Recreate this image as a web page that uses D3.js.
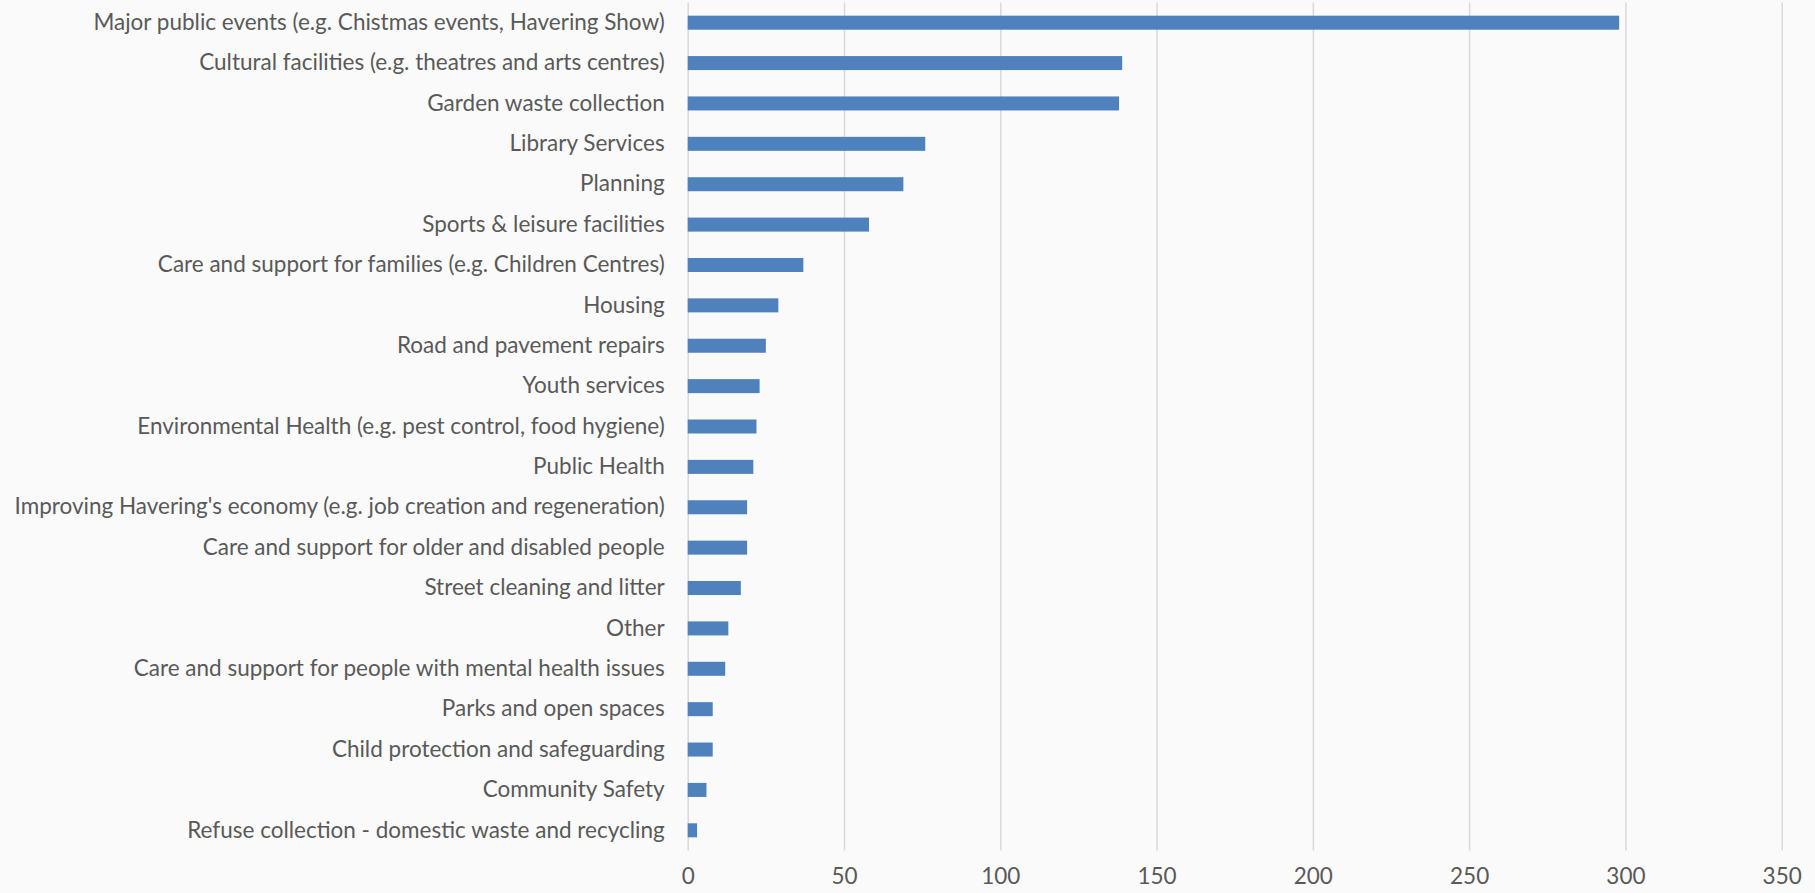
<!DOCTYPE html>
<html lang="en">
<head>
<meta charset="utf-8" />
<title>Services</title>
<script src="https://d3js.org/d3.v7.min.js"></script>
<style>
    body, html {
        margin: 0;
        background: #fafafa;
    }
    .tick text {
        font-family: Lato, "Open Sans", sans-serif;
        fill: #595959;
    }
</style>
</head>
<body>
<div id="canvas"></div>
<script>
    // categories, top to bottom
    let categories = [
        "Major public events (e.g. Chistmas events, Havering Show)",
        "Cultural facilities (e.g. theatres and arts centres)",
        "Garden waste collection",
        "Library Services",
        "Planning",
        "Sports & leisure facilities",
        "Care and support for families (e.g. Children Centres)",
        "Housing",
        "Road and pavement repairs",
        "Youth services",
        "Environmental Health (e.g. pest control, food hygiene)",
        "Public Health",
        "Improving Havering's economy (e.g. job creation and regeneration)",
        "Care and support for older and disabled people",
        "Street cleaning and litter",
        "Other",
        "Care and support for people with mental health issues",
        "Parks and open spaces",
        "Child protection and safeguarding",
        "Community Safety",
        "Refuse collection - domestic waste and recycling"
    ]
    let values = [298, 139, 138, 76, 69, 58, 37, 29, 25, 23, 22, 21, 19, 19, 17, 13, 12, 8, 8, 6, 3]
    let xTicks = [0, 50, 100, 150, 200, 250, 300, 350]

    let width = 1815, height = 893
    let plotLeft = 687.7, plotRight = 1781.7, plotTop = 2.5, plotBottom = 850.5

    let svg = d3.select("#canvas")
        .append("svg")
        .attr("width", width)
        .attr("height", height)

    let xScale = d3.scaleLinear()
        .domain([0, 350])
        .range([plotLeft, plotRight])

    let yScale = d3.scaleBand()
        .domain(categories)
        .range([plotTop, plotBottom])
        .paddingInner(0.653)
        .paddingOuter(0.653 / 2)

    // vertical grid lines
    svg.append("g")
        .attr("transform", "translate(0," + plotBottom + ")")
        .call(d3.axisBottom(xScale).tickValues(xTicks).tickSize(-(plotBottom - plotTop)).tickFormat(""))
        .call(g => g.select(".domain").remove())
        .call(g => g.selectAll(".tick line").attr("stroke", "#d9d9d9").attr("stroke-width", 1.5))

    // x tick labels
    svg.append("g")
        .attr("transform", "translate(0," + plotBottom + ")")
        .call(d3.axisBottom(xScale).tickValues(xTicks).tickSize(0).tickPadding(18))
        .call(g => g.select(".domain").remove())
        .call(g => g.selectAll(".tick text").style("font-size", "22.5px"))

    // bars
    svg.selectAll("rect.bar")
        .data(values)
        .enter()
        .append("rect")
        .attr("class", "bar")
        .attr("x", xScale(0))
        .attr("y", (d, i) => yScale(categories[i]))
        .attr("width", d => xScale(d) - xScale(0))
        .attr("height", yScale.bandwidth())
        .style("fill", "#4f81bd")

    // category labels
    svg.append("g")
        .attr("transform", "translate(" + plotLeft + ",0)")
        .call(d3.axisLeft(yScale).tickSize(0).tickPadding(23))
        .call(g => g.select(".domain").remove())
        .call(g => g.selectAll(".tick text").style("font-size", "22.5px"))
</script>
</body>
</html>
